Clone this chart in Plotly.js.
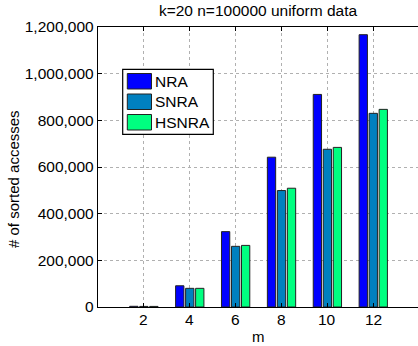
<!DOCTYPE html>
<html>
<head>
<meta charset="utf-8">
<script src="https://cdn.plot.ly/plotly-3.0.1.min.js"></script>
<style>
  html, body { margin: 0; padding: 0; background: #fff; }
  #chart { width: 418px; height: 346px; }
</style>
</head>
<body>
<div id="chart"></div>
<script>
// Number of sorted accesses per algorithm, for each m
const mValues = [2, 4, 6, 8, 10, 12];
const seriesNames = ['NRA', 'SNRA', 'HSNRA'];
const nraAccesses = [3000, 91000, 323000, 642000, 911000, 1167000];
const snraAccesses = [2500, 80000, 260000, 499000, 676000, 830000];
const hsnraAccesses = [2500, 80000, 264000, 509000, 684000, 847000];
const seriesColors = ['#0000ff', '#0080bf', '#00ff80'];
const yTickValues = [0, 200000, 400000, 600000, 800000, 1000000, 1200000];

const W = 418, H = 346;
const M = { l: 98, r: 0, t: 27, b: 39 };
const plotW = W - M.l - M.r, plotH = H - M.t - M.b;
const FONT = 'Liberation Sans, Arial, Helvetica, sans-serif';

// pixel -> paper coordinate helpers for the hand-placed legend and titles
const px = x => (x - M.l) / plotW;
const py = y => (H - M.b - y) / plotH;

const seriesValues = [nraAccesses, snraAccesses, hsnraAccesses];
const traces = seriesNames.map((name, i) => ({
  type: 'bar',
  name: name,
  x: mValues,
  y: seriesValues[i],
  marker: { color: seriesColors[i], line: { color: '#222', width: 1 } },
  hoverinfo: 'x+y+name'
}));

// Legend box with large swatches
const shapes = [{
  type: 'rect', xref: 'paper', yref: 'paper',
  x0: px(122.7), x1: px(213.3), y0: py(134.3), y1: py(69.3),
  fillcolor: '#fff', line: { color: '#000', width: 1.2 }, layer: 'above'
}];
const annotations = [];
const rowTops = [73.5, 94, 114.5];
seriesNames.forEach((name, i) => {
  const top = rowTops[i], bot = top + 15.5;
  shapes.push({
    type: 'rect', xref: 'paper', yref: 'paper',
    x0: px(127.3), x1: px(151.5), y0: py(bot), y1: py(top),
    fillcolor: seriesColors[i], line: { color: '#222', width: 1 }, layer: 'above'
  });
  annotations.push({
    xref: 'paper', yref: 'paper', x: px(153), y: py((top + bot) / 2),
    xanchor: 'left', yanchor: 'middle', showarrow: false,
    text: name, font: { family: FONT, size: 15.5, color: '#000' }
  });
});

// x tick labels, placed on the x scale just under the axis
mValues.forEach(m => {
  annotations.push({
    xref: 'x', yref: 'paper', x: m, y: py(319.5),
    xanchor: 'center', yanchor: 'middle', showarrow: false,
    text: String(m), font: { family: FONT, size: 15.5, color: '#000' }
  });
});

// Axis titles
annotations.push({
  xref: 'paper', yref: 'paper', x: px(13), y: py(179),
  xanchor: 'center', yanchor: 'middle', showarrow: false, textangle: -90,
  text: '# of sorted accesses', font: { family: FONT, size: 15, color: '#000' }
});
annotations.push({
  xref: 'paper', yref: 'paper', x: px(258), y: py(336),
  xanchor: 'center', yanchor: 'middle', showarrow: false,
  text: 'm', font: { family: FONT, size: 15, color: '#000' }
});

const layout = {
  width: W, height: H,
  margin: M,
  paper_bgcolor: '#fff', plot_bgcolor: '#fff',
  font: { family: FONT, size: 15, color: '#000' },
  title: {
    text: 'k=20 n=100000 uniform data',
    x: px(258), xref: 'paper', xanchor: 'center',
    y: 1 - 11 / H, yref: 'container', yanchor: 'middle',
    font: { family: FONT, size: 15.5, color: '#000' }
  },
  barmode: 'group',
  bargap: 0.346,
  bargroupgap: 0.17,
  showlegend: false,
  xaxis: {
    range: [0, 13.95],
    tickvals: mValues,
    showticklabels: false,
    ticks: 'inside', ticklen: 4, tickcolor: '#000',
    showline: true, linecolor: '#000', linewidth: 1.2, mirror: 'ticks',
    showgrid: true, gridcolor: '#b0b0b0', griddash: 'dot', gridwidth: 1,
    zeroline: false,
    fixedrange: true
  },
  yaxis: {
    range: [0, 1200000],
    tickvals: yTickValues,
    tickformat: ',d',
    ticks: 'inside', ticklen: 4, tickcolor: '#000',
    showline: true, linecolor: '#000', linewidth: 1.2, mirror: false,
    showgrid: true, gridcolor: '#b0b0b0', griddash: 'dot', gridwidth: 1,
    zeroline: false,
    ticklabelstandoff: 0,
    tickfont: { family: FONT, size: 15.5, color: '#000' },
    fixedrange: true
  },
  shapes: shapes,
  annotations: annotations
};

Plotly.newPlot('chart', traces, layout, { displayModeBar: false, staticPlot: true });
</script>
</body>
</html>
